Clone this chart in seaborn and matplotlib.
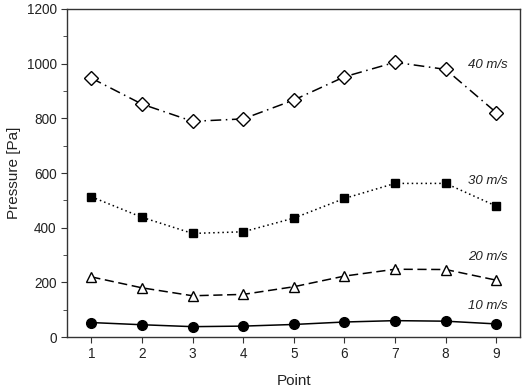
import matplotlib
matplotlib.use("Agg")
import matplotlib.pyplot as plt
from matplotlib.ticker import MultipleLocator
import numpy as np
import pandas as pd
import seaborn as sns

points = [1, 2, 3, 4, 5, 6, 7, 8, 9]
p_10 = [53, 45, 38, 40, 46, 55, 60, 58, 48]
p_20 = [220, 180, 151, 156, 184, 223, 248, 247, 208]
p_30 = [513, 438, 379, 385, 435, 507, 562, 562, 479]
p_40 = [947, 852, 789, 798, 867, 952, 1005, 979, 821]
labels = ["10 m/s", "20 m/s", "30 m/s", "40 m/s"]

sns.set_style("ticks")
plt.rcParams['font.family'] = ['Liberation Sans', 'DejaVu Sans']

fig, ax = plt.subplots(figsize=(5.28, 3.91), dpi=100)

styles = [
    dict(linestyle='-', marker='o', markerfacecolor='black', markersize=7),
    dict(linestyle=(0, (6, 3)), marker='^', markerfacecolor='white', markersize=7.5),
    dict(linestyle=(0, (1, 2)), marker='s', markerfacecolor='black', markersize=6),
    dict(linestyle=(0, (7, 3, 1, 3)), marker='D', markerfacecolor='white', markersize=7),
]
series = [p_10, p_20, p_30, p_40]
label_y = [113, 293, 571, 995]

for vals, st, lab, ly in zip(series, styles, labels, label_y):
    df = pd.DataFrame({'Point': points, 'Pressure': vals})
    sns.lineplot(data=df, x='Point', y='Pressure', ax=ax, color='black',
                 linewidth=1.1, markeredgecolor='black', markeredgewidth=1.0, **st)
    ax.text(9.22, ly, lab, ha='right', va='center', fontsize=9.5,
            style='italic', color='#222222')

ax.set_xlim(0.52, 9.47)
ax.set_ylim(0, 1200)
ax.set_xticks(points)
ax.yaxis.set_major_locator(MultipleLocator(200))
ax.yaxis.set_minor_locator(MultipleLocator(100))
ax.tick_params(axis='both', which='major', labelsize=9.8, direction='out', length=4,
               colors='#333333', labelcolor='#222222')
ax.tick_params(axis='y', which='minor', direction='out', length=3, colors='#333333')
ax.tick_params(axis='both', top=False, right=False)
for s in ax.spines.values():
    s.set_color('#333333')
    s.set_linewidth(1.0)
ax.set_xlabel('Point', fontsize=11, color='#222222', labelpad=9)
ax.set_ylabel('Pressure [Pa]', fontsize=11, color='#222222', labelpad=4)

fig.subplots_adjust(left=0.127, right=0.985, top=0.977, bottom=0.138)
fig.savefig('out.png', dpi=100)
